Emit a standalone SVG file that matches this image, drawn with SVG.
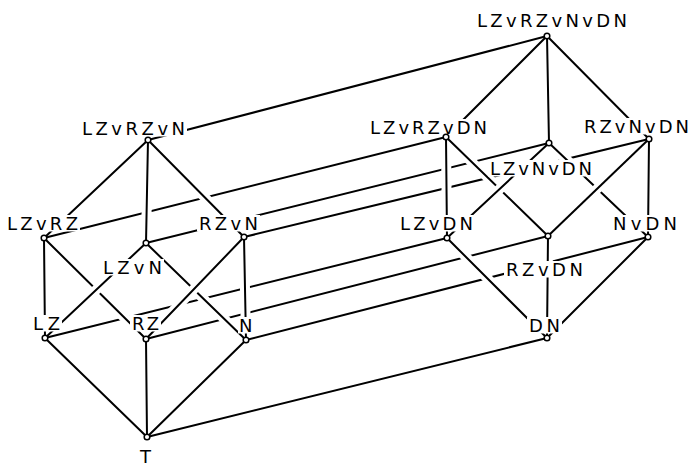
<svg xmlns="http://www.w3.org/2000/svg" width="690" height="467" viewBox="0 0 690 467">
<style>
.ln{stroke:#000;stroke-width:2;fill:none;stroke-linecap:round}
.halo{stroke:#fff;stroke-width:10;fill:none;stroke-linecap:butt}
.bg{fill:#fff}
.lb{font-family:"DejaVu Sans","Liberation Sans",sans-serif;font-size:18px;fill:#000}
.nd{fill:#fff;stroke:#000;stroke-width:1.5}
</style>
<rect width="690" height="467" fill="#fff"/>
<g id="connectors">
  <line class="ln" x1="147" y1="437" x2="547" y2="338"/>
  <line class="ln" x1="45" y1="338" x2="447" y2="238"/>
  <line class="ln" x1="146" y1="339" x2="548" y2="236"/>
  <line class="ln" x1="246" y1="340" x2="648" y2="237"/>
  <line class="ln" x1="44" y1="238" x2="446" y2="137"/>
  <line class="ln" x1="146" y1="243" x2="549" y2="143"/>
  <line class="ln" x1="244" y1="237" x2="649" y2="139"/>
  <line class="ln" x1="148" y1="140" x2="547" y2="36"/>
  <line class="ln" x1="148" y1="140" x2="44" y2="238"/>
  <line class="ln" x1="44" y1="238" x2="45" y2="338"/>
  <line class="ln" x1="45" y1="338" x2="147" y2="437"/>
  <line class="ln" x1="146" y1="339" x2="147" y2="437"/>
  <line class="ln" x1="246" y1="340" x2="147" y2="437"/>
  <line class="ln" x1="547" y1="36" x2="446" y2="137"/>
  <line class="ln" x1="547" y1="36" x2="549" y2="143"/>
  <line class="ln" x1="547" y1="36" x2="649" y2="139"/>
  <line class="ln" x1="649" y1="139" x2="648" y2="237"/>
  <line class="ln" x1="648" y1="237" x2="547" y2="338"/>
  <line class="halo" x1="147.75" y1="153" x2="146.25" y2="230"/>
  <line class="halo" x1="157.1" y1="149.2" x2="234.9" y2="227.8"/>
  <line class="halo" x1="53.2" y1="247.2" x2="136.8" y2="329.9"/>
  <line class="halo" x1="155.3" y1="252.1" x2="236.7" y2="331"/>
  <line class="halo" x1="244.25" y1="250" x2="245.75" y2="327"/>
  <line class="halo" x1="446.1" y1="150" x2="446.9" y2="225"/>
  <line class="halo" x1="455.3" y1="146.1" x2="538.7" y2="226.9"/>
  <line class="halo" x1="558.4" y1="152" x2="638.6" y2="228"/>
  <line class="halo" x1="456.2" y1="247.2" x2="537.8" y2="328.8"/>
  <line class="halo" x1="547.9" y1="249" x2="547.1" y2="325"/>
  <line class="ln" x1="148" y1="140" x2="146" y2="243"/>
  <line class="ln" x1="148" y1="140" x2="244" y2="237"/>
  <line class="ln" x1="44" y1="238" x2="146" y2="339"/>
  <line class="ln" x1="146" y1="243" x2="246" y2="340"/>
  <line class="ln" x1="244" y1="237" x2="246" y2="340"/>
  <line class="ln" x1="446" y1="137" x2="447" y2="238"/>
  <line class="ln" x1="446" y1="137" x2="548" y2="236"/>
  <line class="ln" x1="549" y1="143" x2="648" y2="237"/>
  <line class="ln" x1="447" y1="238" x2="547" y2="338"/>
  <line class="ln" x1="548" y1="236" x2="547" y2="338"/>
  <line class="halo" x1="136.5" y1="251.9" x2="54.5" y2="329.1"/>
  <line class="halo" x1="235" y1="246.4" x2="155" y2="329.6"/>
  <line class="halo" x1="539.5" y1="151.9" x2="456.5" y2="229.2"/>
  <line class="halo" x1="639.6" y1="148" x2="557.4" y2="227"/>
  <line class="ln" x1="146" y1="243" x2="45" y2="338"/>
  <line class="ln" x1="244" y1="237" x2="146" y2="339"/>
  <line class="ln" x1="549" y1="143" x2="447" y2="238"/>
  <line class="ln" x1="649" y1="139" x2="548" y2="236"/>
</g>
<g id="n-T"><rect class="bg" x="138" y="448" width="17" height="17"/><text class="lb" x="140" y="463">T</text><circle class="nd" cx="147" cy="437" r="2.8"/></g>
<g id="n-LZ"><rect class="bg" x="31" y="315" width="31" height="16.5"/><text class="lb" x="33" y="330" textLength="27" lengthAdjust="spacing">LZ</text><circle class="nd" cx="45" cy="338" r="2.8"/></g>
<g id="n-RZ"><rect class="bg" x="130" y="315" width="31" height="16.5"/><text class="lb" x="132" y="330" textLength="27" lengthAdjust="spacing">RZ</text><circle class="nd" cx="146" cy="339" r="2.8"/></g>
<g id="n-N"><rect class="bg" x="238" y="317" width="18" height="16.5"/><text class="lb" x="239" y="332">N</text><circle class="nd" cx="246" cy="340" r="2.8"/></g>
<g id="n-LZvRZ"><rect class="bg" x="5" y="215" width="75" height="16.5"/><text class="lb" x="7" y="230" textLength="71" lengthAdjust="spacing">LZvRZ</text><circle class="nd" cx="44" cy="238" r="2.8"/></g>
<g id="n-LZvN"><rect class="bg" x="101" y="259" width="63" height="16.5"/><text class="lb" x="103" y="274" textLength="59" lengthAdjust="spacing">LZvN</text><circle class="nd" cx="146" cy="243" r="2.8"/></g>
<g id="n-RZvN"><rect class="bg" x="197" y="215" width="63" height="16.5"/><text class="lb" x="199" y="230" textLength="59" lengthAdjust="spacing">RZvN</text><circle class="nd" cx="244" cy="237" r="2.8"/></g>
<g id="n-LZvRZvN"><rect class="bg" x="80" y="120" width="107" height="16.5"/><text class="lb" x="82" y="135" textLength="103" lengthAdjust="spacing">LZvRZvN</text><circle class="nd" cx="148" cy="140" r="2.8"/></g>
<g id="n-DN"><rect class="bg" x="527" y="317" width="35" height="16.5"/><text class="lb" x="529" y="332" textLength="31" lengthAdjust="spacing">DN</text><circle class="nd" cx="547" cy="338" r="2.8"/></g>
<g id="n-LZvDN"><rect class="bg" x="398" y="215" width="77" height="16.5"/><text class="lb" x="400" y="230" textLength="73" lengthAdjust="spacing">LZvDN</text><circle class="nd" cx="447" cy="238" r="2.8"/></g>
<g id="n-RZvDN"><rect class="bg" x="504" y="261" width="81" height="16.5"/><text class="lb" x="506" y="276" textLength="77" lengthAdjust="spacing">RZvDN</text><circle class="nd" cx="548" cy="236" r="2.8"/></g>
<g id="n-NvDN"><rect class="bg" x="611" y="215" width="68" height="16.5"/><text class="lb" x="613" y="230" textLength="64" lengthAdjust="spacing">NvDN</text><circle class="nd" cx="648" cy="237" r="2.8"/></g>
<g id="n-LZvRZvDN"><rect class="bg" x="368" y="119" width="121" height="16.5"/><text class="lb" x="370" y="134" textLength="117" lengthAdjust="spacing">LZvRZvDN</text><circle class="nd" cx="446" cy="137" r="2.8"/></g>
<g id="n-LZvNvDN"><rect class="bg" x="488" y="160" width="106" height="16.5"/><text class="lb" x="490" y="175" textLength="102" lengthAdjust="spacing">LZvNvDN</text><circle class="nd" cx="549" cy="143" r="2.8"/></g>
<g id="n-RZvNvDN"><rect class="bg" x="582" y="118" width="108" height="16.5"/><text class="lb" x="584" y="133" textLength="105" lengthAdjust="spacing">RZvNvDN</text><circle class="nd" cx="649" cy="139" r="2.8"/></g>
<g id="n-LZvRZvNvDN"><rect class="bg" x="475" y="12" width="154" height="16.5"/><text class="lb" x="477" y="27" textLength="150" lengthAdjust="spacing">LZvRZvNvDN</text><circle class="nd" cx="547" cy="36" r="2.8"/></g>
</svg>
